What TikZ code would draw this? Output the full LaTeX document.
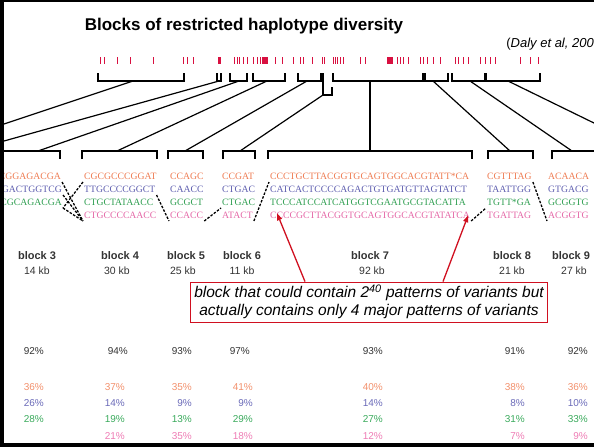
\documentclass[tikz,border=0pt]{standalone}
\usepackage{fontspec}
\setmainfont{Liberation Sans}
\newfontfamily\seqfont{Liberation Serif}
\usetikzlibrary{arrows.meta,calc}

\definecolor{snpred}{HTML}{D81040}
\definecolor{hOr}{HTML}{EE7A50}
\definecolor{hBl}{HTML}{5C5CAE}
\definecolor{hGr}{HTML}{2E9E50}
\definecolor{hPk}{HTML}{E466A6}
\definecolor{pOr}{HTML}{F2906C}
\definecolor{pBl}{HTML}{6A6AB8}
\definecolor{pGr}{HTML}{3AAA5C}
\definecolor{pPk}{HTML}{EE7CB4}
\definecolor{arrowred}{HTML}{D01020}
\definecolor{labgray}{HTML}{333333}

\begin{document}
\begin{tikzpicture}[x=1pt,y=-1pt,
  snp/.style={draw=snpred,line width=0.9pt},
  brk/.style={draw=black,line width=1.2pt},
  link/.style={draw=black,line width=1.2pt},
  seq/.style={font=\seqfont\fontsize{9.7}{10}\selectfont,inner sep=0pt},
  hop/.style={draw=black,line width=1.3pt,dash pattern=on 2.5pt off 1.5pt},
  blk/.style={font=\bfseries\fontsize{11}{13}\selectfont,text=labgray,anchor=base},
  kb/.style={font=\fontsize{10.5}{12}\selectfont,text=labgray,anchor=base},
  pct/.style={font=\fontsize{10}{12}\selectfont,anchor=base east,inner sep=0pt},
  redarr/.style={draw=arrowred,line width=1.3pt,-{Triangle[length=7pt,width=5pt]}}
]
\useasboundingbox (0,0) rectangle (594,447);

% title and citation
\node[font=\bfseries\fontsize{17}{20}\selectfont,anchor=base] (title) at (244,30)
  {Blocks of restricted haplotype diversity};
\node[font=\fontsize{13}{15}\selectfont,anchor=base east,inner sep=0pt] (cite) at (594,47)
  {(\textit{Daly et al, 200}};

% SNP positions along the region
\foreach \x in {100,104,117,130,153,183,187,193,
                234,237,239,243,247,253,257,260,263,265,267,275,282,293,
                300,303,312,322,324,333,335,337,340,343,360,365,
                388,390,392,397,400,403,408,420,423,427,433,440,
                455,458,463,468,480,485,490,495,520,530,538}
  \draw[snp] (\x,57) -- (\x,64);
\fill[snpred] (218,57) rectangle (221,64);
\fill[snpred] (262,57) rectangle (268,64);
\fill[snpred] (387,57) rectangle (393,64);

% block brackets on the SNP map
\draw[brk] (98,73) -- (98,81) -- (184,81) -- (184,73);
\draw[brk] (217,73) -- (217,81) -- (221,81) -- (221,73);
\draw[brk] (230,73) -- (230,81) -- (247,81) -- (247,73);
\draw[brk] (253,73) -- (253,81) -- (285,81) -- (285,73);
\draw[brk] (298,73) -- (298,81) -- (321,81) -- (321,73);
\draw[brk] (323,73) -- (323,95) -- (332,95) -- (332,87);
\draw[brk] (333,73) -- (333,81) -- (423,81) -- (423,73);
\draw[brk] (425,73) -- (425,81) -- (448,81) -- (448,73);
\draw[brk] (452,73) -- (452,81) -- (485,81) -- (485,73);
\draw[brk] (486,73) -- (486,81) -- (540,81) -- (540,73);

\coordinate (u1) at (133,81);
\coordinate (u2) at (219,81);
\coordinate (u3) at (239,81);
\coordinate (u4) at (267,81);
\coordinate (u5) at (307,81);
\coordinate (u6) at (323,95);
\coordinate (u7) at (370,81);
\coordinate (u8) at (433,81);
\coordinate (u9) at (470,81);
\coordinate (u10) at (508,81);

% brackets over the expanded blocks
\draw[brk] (4,151) -- (60,151) -- (60,159);
\draw[brk] (82,159) -- (82,151) -- (157,151) -- (157,159);
\draw[brk] (168,159) -- (168,151) -- (203,151) -- (203,159);
\draw[brk] (223,159) -- (223,151) -- (255,151) -- (255,159);
\draw[brk] (268,159) -- (268,151) -- (472,151) -- (472,159);
\draw[brk] (488,159) -- (488,151) -- (533,151) -- (533,159);
\draw[brk] (552,159) -- (552,151) -- (600,151);

\coordinate (d1) at (4,124);
\coordinate (d2) at (4,141);
\coordinate (d3) at (38,151);
\coordinate (d4) at (117,151);
\coordinate (d5) at (185,151);
\coordinate (d6) at (240,151);
\coordinate (d7) at (370,151);
\coordinate (d8) at (510,151);
\coordinate (d9) at (572,151);
\coordinate (d10) at (596,124);

\foreach \i in {1,...,10} \draw[link] (u\i) -- (d\i);

% haplotype sequences: block 3
\node[seq,text=hOr,anchor=base east] (s3o) at (61,179) {CGGAGACGA};
\node[seq,text=hBl,anchor=base east] (s3b) at (62,192) {GACTGGTCG};
\node[seq,text=hGr,anchor=base east] (s3g) at (62,205) {CGCAGACGA};
% block 4
\node[seq,text=hOr,anchor=base west] (s4o) at (84,179) {CGCGCCCGGAT};
\node[seq,text=hBl,anchor=base west] (s4b) at (84,192) {TTGCCCCGGCT};
\node[seq,text=hGr,anchor=base west] (s4g) at (84,205) {CTGCTATAACC};
\node[seq,text=hPk,anchor=base west] (s4p) at (84,218) {CTGCCCCAACC};
% block 5
\node[seq,text=hOr,anchor=base west] (s5o) at (170,179) {CCAGC};
\node[seq,text=hBl,anchor=base west] (s5b) at (170,192) {CAACC};
\node[seq,text=hGr,anchor=base west] (s5g) at (170,205) {GCGCT};
\node[seq,text=hPk,anchor=base west] (s5p) at (170,218) {CCACC};
% block 6
\node[seq,text=hOr,anchor=base west] (s6o) at (222,179) {CCGAT};
\node[seq,text=hBl,anchor=base west] (s6b) at (222,192) {CTGAC};
\node[seq,text=hGr,anchor=base west] (s6g) at (222,205) {CTGAC};
\node[seq,text=hPk,anchor=base west] (s6p) at (222,218) {ATACT};
% block 7
\node[seq,text=hOr,anchor=base west] (s7o) at (270,179) {CCCTGCTTACGGTGCAGTGGCACGTATT*CA};
\node[seq,text=hBl,anchor=base west] (s7b) at (270,192) {CATCACTCCCCAGACTGTGATGTTAGTATCT};
\node[seq,text=hGr,anchor=base west] (s7g) at (270,205) {TCCCATCCATCATGGTCGAATGCGTACATTA};
\node[seq,text=hPk,anchor=base west] (s7p) at (270,218) {CCCCGCTTACGGTGCAGTGGCACGTATATCA};
% block 8
\node[seq,text=hOr,anchor=base west] (s8o) at (487,179) {CGTTTAG};
\node[seq,text=hBl,anchor=base west] (s8b) at (487,192) {TAATTGG};
\node[seq,text=hGr,anchor=base west] (s8g) at (487,205) {TGTT*GA};
\node[seq,text=hPk,anchor=base west] (s8p) at (487,218) {TGATTAG};
% block 9
\node[seq,text=hOr,anchor=base west] (s9o) at (548,179) {ACAACA};
\node[seq,text=hBl,anchor=base west] (s9b) at (548,192) {GTGACG};
\node[seq,text=hGr,anchor=base west] (s9g) at (548,205) {GCGGTG};
\node[seq,text=hPk,anchor=base west] (s9p) at (548,218) {ACGGTG};

% transitions between neighbouring blocks
\draw[hop] ([xshift=1pt,yshift=-3pt]s3o.base east) -- ([xshift=-1pt,yshift=-3pt]s4p.base west);
\draw[hop] ([xshift=-1pt,yshift=-3pt]s4o.base west) -- ([xshift=1pt,yshift=-3pt]s3g.base east);
\draw[hop] ([xshift=1pt,yshift=-3pt]s3b.base east) -- ([xshift=-1pt,yshift=-3pt]s4p.base west);
\draw[hop] ([xshift=1pt,yshift=-3pt]s3g.base east) -- ([xshift=-1pt,yshift=-3pt]s4p.base west);
\draw[hop] ([xshift=1pt,yshift=-3pt]s4b.base east) -- ([xshift=-1pt,yshift=-3pt]s5p.base west);
\draw[hop] ([xshift=1pt,yshift=-3pt]s5p.base east) -- ([xshift=-1pt,yshift=-3pt]s6g.base west);
\draw[hop] ([xshift=1pt,yshift=-3pt]s6p.base east) -- ([xshift=-1pt,yshift=-3pt]s7o.base west);
\draw[hop] ([xshift=1pt,yshift=-3pt]s7p.base east) -- ([xshift=-1pt,yshift=-3pt]s8g.base west);
\draw[hop] ([xshift=1pt,yshift=-3pt]s8o.base east) -- ([xshift=-1pt,yshift=-3pt]s9p.base west);

% block names and sizes
\node[blk] (n3) at (37,259) {block 3};
\node[blk] (n4) at (120,259) {block 4};
\node[blk] (n5) at (186,259) {block 5};
\node[blk] (n6) at (242,259) {block 6};
\node[blk] (n7) at (370,259) {block 7};
\node[blk] (n8) at (512,259) {block 8};
\node[blk] (n9) at (571,259) {block 9};
\node[kb] (k3) at (37,274) {14 kb};
\node[kb] (k4) at (117,274) {30 kb};
\node[kb] (k5) at (183,274) {25 kb};
\node[kb] (k6) at (242,274) {11 kb};
\node[kb] (k7) at (372,274) {92 kb};
\node[kb] (k8) at (512,274) {21 kb};
\node[kb] (k9) at (574,274) {27 kb};

% annotation box and its arrows
\node[draw=arrowred,line width=0.8pt,fill=white,align=center,inner xsep=4pt,inner ysep=3pt,
      font=\itshape\fontsize{15.5}{18}\selectfont] (note) at (369,302)
  {block that could contain 2\textsuperscript{40} patterns of variants but\\
   actually contains only 4 major patterns of variants};
\draw[redarr] ([xshift=-64pt]note.north) -- ([shift={(7pt,5pt)}]s7p.south west);
\draw[redarr] ([xshift=74pt]note.north) -- ([shift={(-2pt,3pt)}]s7p.south east);

% coverage of the common haplotypes
\node[pct,text=labgray] (c3) at (44,354) {92\%};
\node[pct,text=labgray] (c4) at (128,354) {94\%};
\node[pct,text=labgray] (c5) at (192,354) {93\%};
\node[pct,text=labgray] (c6) at (250,354) {97\%};
\node[pct,text=labgray] (c7) at (383,354) {93\%};
\node[pct,text=labgray] (c8) at (525,354) {91\%};
\node[pct,text=labgray] (c9) at (588,354) {92\%};

% frequency of each haplotype
\node[pct,text=pOr] (f3o) at (44,390) {36\%};
\node[pct,text=pBl] (f3b) at (44,406) {26\%};
\node[pct,text=pGr] (f3g) at (44,422) {28\%};
\node[pct,text=pOr] (f4o) at (125,390) {37\%};
\node[pct,text=pBl] (f4b) at (125,406) {14\%};
\node[pct,text=pGr] (f4g) at (125,422) {19\%};
\node[pct,text=pPk] (f4p) at (125,439) {21\%};
\node[pct,text=pOr] (f5o) at (192,390) {35\%};
\node[pct,text=pBl] (f5b) at (192,406) {9\%};
\node[pct,text=pGr] (f5g) at (192,422) {13\%};
\node[pct,text=pPk] (f5p) at (192,439) {35\%};
\node[pct,text=pOr] (f6o) at (253,390) {41\%};
\node[pct,text=pBl] (f6b) at (253,406) {9\%};
\node[pct,text=pGr] (f6g) at (253,422) {29\%};
\node[pct,text=pPk] (f6p) at (253,439) {18\%};
\node[pct,text=pOr] (f7o) at (383,390) {40\%};
\node[pct,text=pBl] (f7b) at (383,406) {14\%};
\node[pct,text=pGr] (f7g) at (383,422) {27\%};
\node[pct,text=pPk] (f7p) at (383,439) {12\%};
\node[pct,text=pOr] (f8o) at (525,390) {38\%};
\node[pct,text=pBl] (f8b) at (525,406) {8\%};
\node[pct,text=pGr] (f8g) at (525,422) {31\%};
\node[pct,text=pPk] (f8p) at (525,439) {7\%};
\node[pct,text=pOr] (f9o) at (588,390) {36\%};
\node[pct,text=pBl] (f9b) at (588,406) {10\%};
\node[pct,text=pGr] (f9g) at (588,422) {33\%};
\node[pct,text=pPk] (f9p) at (588,439) {9\%};

% slide frame, drawn last so it covers text that runs into it
\fill[black] (0,0) rectangle (594,2);
\fill[black] (0,0) rectangle (4,447);
\fill[black] (0,443) rectangle (594,447);
\end{tikzpicture}
\end{document}
